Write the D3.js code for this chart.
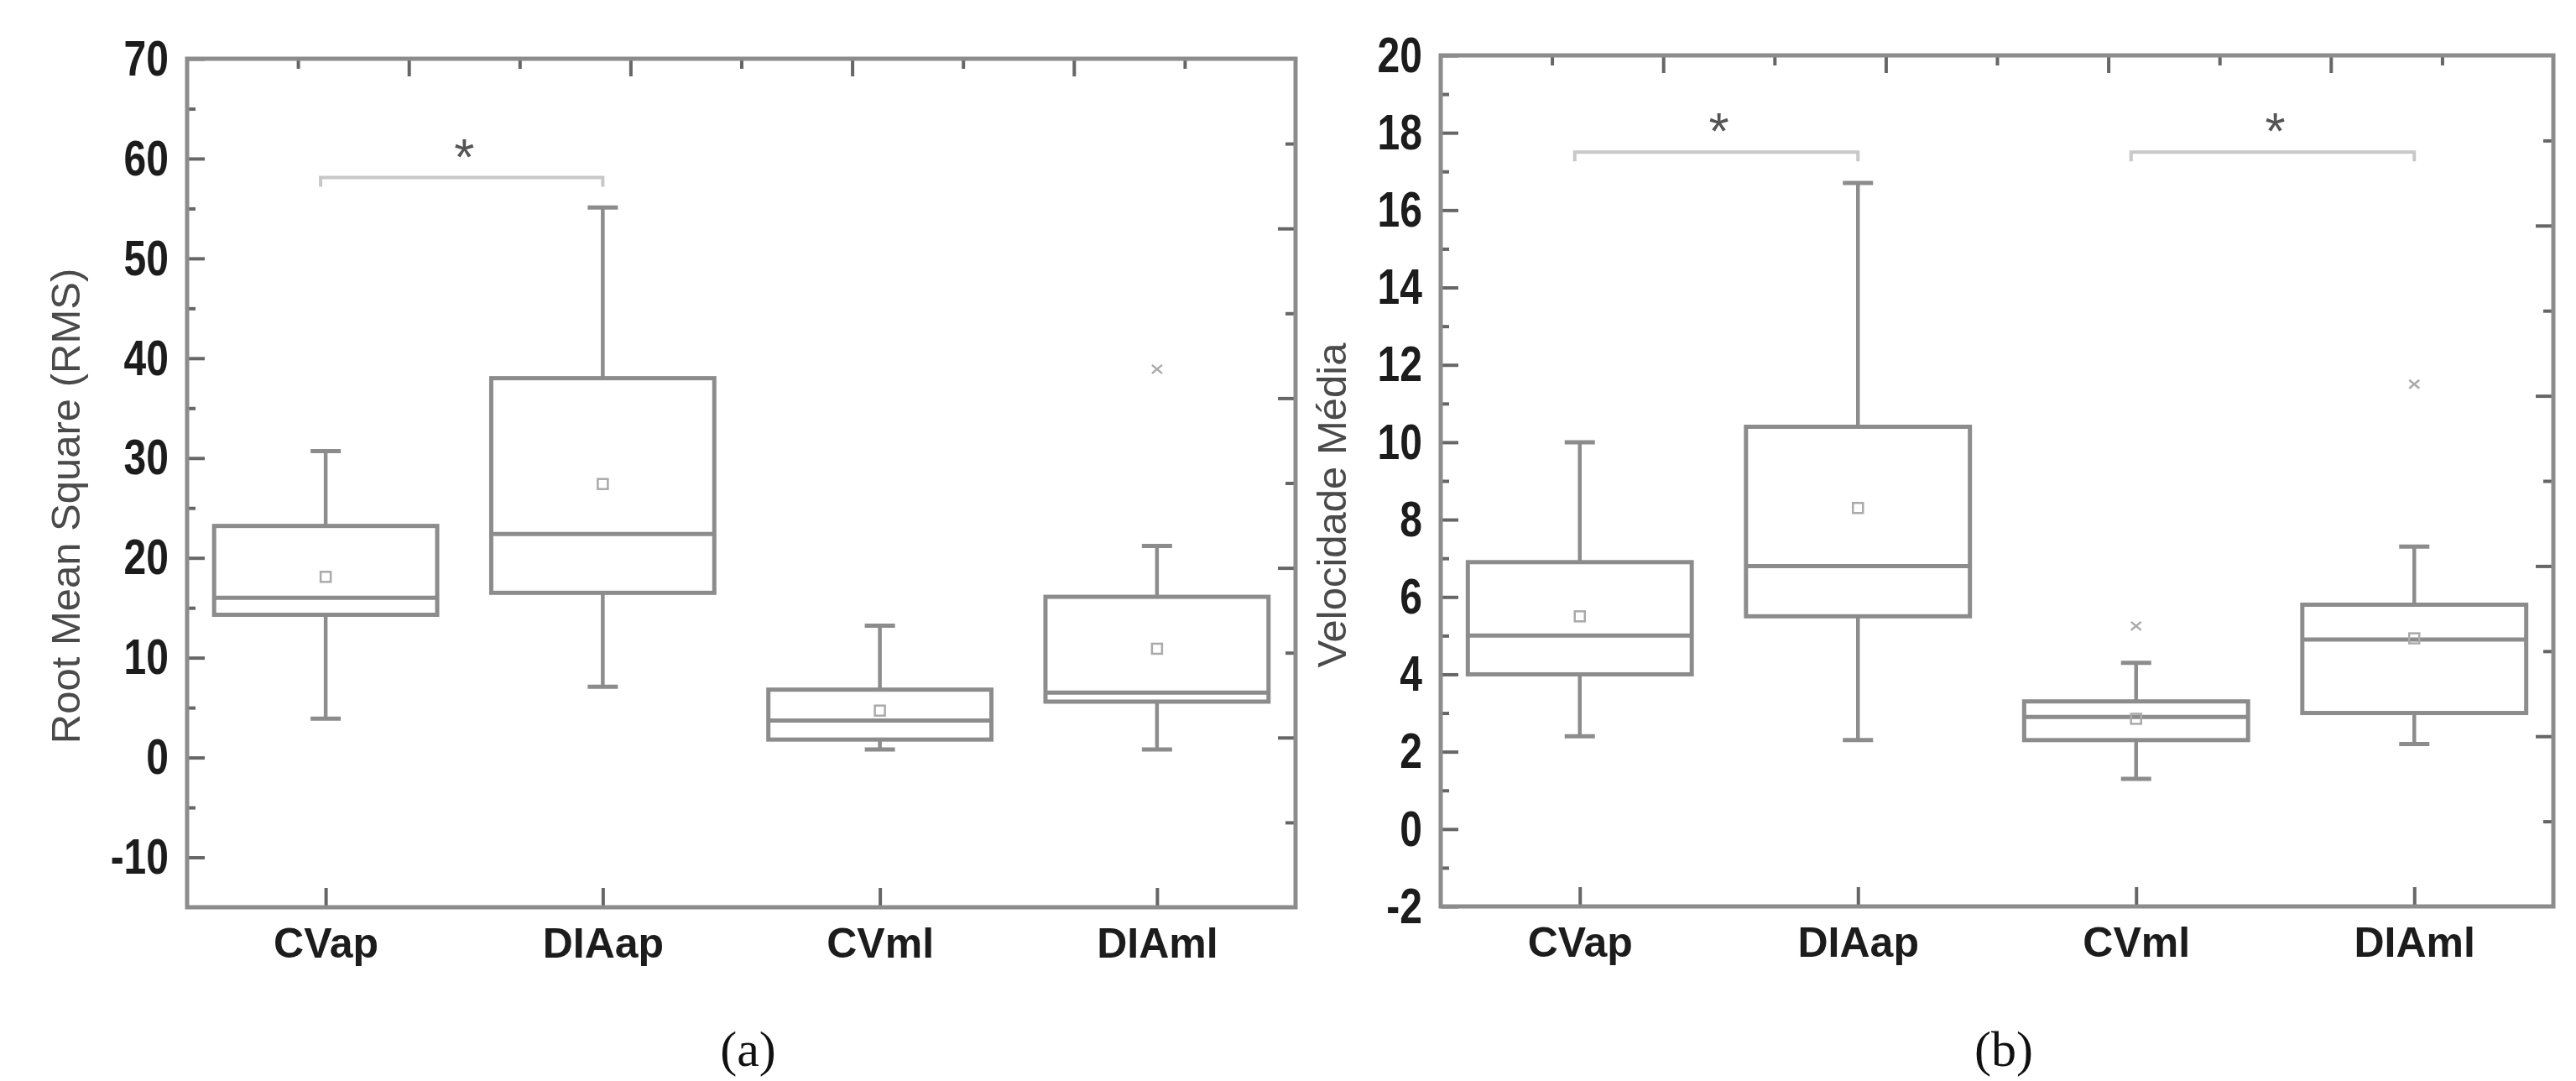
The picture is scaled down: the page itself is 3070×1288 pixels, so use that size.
<!DOCTYPE html>
<html>
<head>
<meta charset="utf-8">
<script src="https://cdn.jsdelivr.net/npm/d3@7"></script>
<style>
  html, body { margin: 0; padding: 0; background: #fff; }
  svg { display: block; }
</style>
</head>
<body>
<svg id="chart" width="3070" height="1288"></svg>
<script>
// categories shared by both panels
const categories = ['CVap', 'DIAap', 'CVml', 'DIAml'];

// (a) Root Mean Square
const rmsLow    = [3.9, 7.1, 0.8, 0.8];
const rmsQ1     = [14.3, 16.5, 1.8, 5.6];
const rmsMedian = [16.0, 22.4, 3.7, 6.5];
const rmsQ3     = [23.2, 38.0, 6.8, 16.1];
const rmsHigh   = [30.7, 55.1, 13.2, 21.2];
const rmsMean   = [18.1, 27.4, 4.7, 10.9];
const rmsOutliers = [[], [], [], [38.9]];
const rmsTicks  = [-10, 0, 10, 20, 30, 40, 50, 60, 70];
const rmsMinor  = [-5, 5, 15, 25, 35, 45, 55, 65];
const rmsSig    = [['CVap', 'DIAap', 58.1]];

// (b) Velocidade Média
const velLow    = [2.4, 2.3, 1.3, 2.2];
const velQ1     = [4.0, 5.5, 2.3, 3.0];
const velMedian = [5.0, 6.8, 2.9, 4.9];
const velQ3     = [6.9, 10.4, 3.3, 5.8];
const velHigh   = [10.0, 16.7, 4.3, 7.3];
const velMean   = [5.5, 8.3, 2.85, 4.93];
const velOutliers = [[], [], [5.25], [11.5]];
const velTicks  = [-2, 0, 2, 4, 6, 8, 10, 12, 14, 16, 18, 20];
const velMinor  = [-1, 1, 3, 5, 7, 9, 11, 13, 15, 17, 19];
const velSig    = [['CVap', 'DIAap', 17.5], ['CVml', 'DIAml', 17.5]];

const svg = d3.select('#chart');

const FRAME = '#8c8c8c';
const TICK = '#666';
const NARROW = 0.8; // tick labels in the original are a condensed face

function drawPanel(opt) {
  const { left, right, top, bottom } = opt;
  const g = svg.append('g');

  const x = d3.scaleBand().domain(categories).range([left, right]);
  const y = d3.scaleLinear().domain(opt.domain).range([bottom, top]);
  const cx = c => x(c) + x.bandwidth() / 2;
  const bw = x.bandwidth() * 0.805;

  // left axis, majors with labels
  const yAxis = g.append('g')
    .attr('transform', `translate(${left},0)`)
    .call(d3.axisLeft(y).tickValues(opt.ticks).tickSize(-21).tickPadding(22)
      .tickFormat(d => String(d)));
  yAxis.select('.domain').remove();
  yAxis.selectAll('line').attr('stroke', TICK).attr('stroke-width', 4);
  yAxis.selectAll('text')
    .attr('x', -22 / NARROW)
    .attr('transform', `scale(${NARROW},1)`)
    .attr('font-family', "'Liberation Sans', Arial, sans-serif")
    .attr('font-weight', 'bold')
    .attr('font-size', 60)
    .attr('fill', '#1c1c1c');

  const yMinor = g.append('g')
    .attr('transform', `translate(${left},0)`)
    .call(d3.axisLeft(y).tickValues(opt.minor).tickSize(-10).tickFormat(''));
  yMinor.select('.domain').remove();
  yMinor.selectAll('line').attr('stroke', TICK).attr('stroke-width', 4);

  // top and right axes: ten equal divisions
  const topS = d3.scaleLinear().domain([0, 10]).range([left, right]);
  const rightS = d3.scaleLinear().domain([0, 10]).range([top, bottom]);
  [[2, 4, 6, 8], [1, 3, 5, 7, 9]].forEach((vals, i) => {
    const len = i === 0 ? -21 : -12;
    const t = g.append('g')
      .attr('transform', `translate(0,${top})`)
      .call(d3.axisTop(topS).tickValues(vals).tickSize(len).tickFormat(''));
    t.select('.domain').remove();
    t.selectAll('line').attr('stroke', TICK).attr('stroke-width', 4);
    const r = g.append('g')
      .attr('transform', `translate(${right},0)`)
      .call(d3.axisRight(rightS).tickValues(vals).tickSize(len).tickFormat(''));
    r.select('.domain').remove();
    r.selectAll('line').attr('stroke', TICK).attr('stroke-width', 4);
  });

  // bottom axis with category labels
  const xAxis = g.append('g')
    .attr('transform', `translate(0,${bottom})`)
    .call(d3.axisBottom(d3.scalePoint().domain(categories).range([cx(categories[0]), cx(categories[3])]))
      .tickSize(-23).tickPadding(24));
  xAxis.select('.domain').remove();
  xAxis.selectAll('line').attr('stroke', TICK).attr('stroke-width', 4);
  xAxis.selectAll('text')
    .attr('font-family', "'Liberation Sans', Arial, sans-serif")
    .attr('font-weight', 'bold')
    .attr('font-size', 50)
    .attr('fill', '#1c1c1c');

  // frame
  g.append('rect')
    .attr('x', left).attr('y', top)
    .attr('width', right - left).attr('height', bottom - top)
    .attr('fill', 'none')
    .attr('stroke', FRAME)
    .attr('stroke-width', 5);

  // y title
  g.append('text')
    .attr('transform', `translate(${opt.titleX},${opt.titleY}) rotate(-90)`)
    .attr('text-anchor', 'middle')
    .attr('font-family', "'Liberation Sans', Arial, sans-serif")
    .attr('font-size', 49)
    .attr('fill', '#4a4a4a')
    .text(opt.title);

  // boxes
  const boxes = g.selectAll('.box').data(categories).enter()
    .append('g').attr('class', 'box');

  boxes.append('line')
    .attr('x1', cx).attr('x2', cx)
    .attr('y1', (c, i) => y(opt.q3[i])).attr('y2', (c, i) => y(opt.high[i]))
    .attr('stroke', FRAME).attr('stroke-width', 4.5);
  boxes.append('line')
    .attr('x1', cx).attr('x2', cx)
    .attr('y1', (c, i) => y(opt.q1[i])).attr('y2', (c, i) => y(opt.low[i]))
    .attr('stroke', FRAME).attr('stroke-width', 4.5);
  ['high', 'low'].forEach(k => {
    boxes.append('line')
      .attr('x1', c => cx(c) - 18).attr('x2', c => cx(c) + 18)
      .attr('y1', (c, i) => y(opt[k][i])).attr('y2', (c, i) => y(opt[k][i]))
      .attr('stroke', FRAME).attr('stroke-width', 5);
  });

  boxes.append('rect')
    .attr('x', c => cx(c) - bw / 2)
    .attr('width', bw)
    .attr('y', (c, i) => y(opt.q3[i]))
    .attr('height', (c, i) => y(opt.q1[i]) - y(opt.q3[i]))
    .attr('fill', '#fff')
    .attr('stroke', FRAME)
    .attr('stroke-width', 5);

  boxes.append('line')
    .attr('x1', c => cx(c) - bw / 2).attr('x2', c => cx(c) + bw / 2)
    .attr('y1', (c, i) => y(opt.median[i])).attr('y2', (c, i) => y(opt.median[i]))
    .attr('stroke', FRAME).attr('stroke-width', 5);

  // mean markers
  boxes.append('rect')
    .attr('x', c => cx(c) - 6)
    .attr('y', (c, i) => y(opt.mean[i]) - 6)
    .attr('width', 12).attr('height', 12)
    .attr('fill', 'none')
    .attr('stroke', '#aaa')
    .attr('stroke-width', 2.5);

  // outliers
  categories.forEach((c, i) => {
    opt.outliers[i].forEach(v => {
      const px = cx(c), py = y(v);
      g.append('path')
        .attr('d', `M${px - 6},${py - 5}L${px + 6},${py + 5}M${px - 6},${py + 5}L${px + 6},${py - 5}`)
        .attr('stroke', '#aaa')
        .attr('stroke-width', 2.5)
        .attr('fill', 'none');
    });
  });

  // significance brackets
  opt.sig.forEach(([a, b, lvl]) => {
    const yl = y(lvl);
    g.append('path')
      .attr('d', `M${cx(a) - 6},${yl + 11}V${yl}H${cx(b)}V${yl + 11}`)
      .attr('fill', 'none')
      .attr('stroke', '#c8c8c8')
      .attr('stroke-width', 4);
    g.append('text')
      .attr('x', (cx(a) + cx(b)) / 2)
      .attr('y', yl - 4)
      .attr('text-anchor', 'middle')
      .attr('font-family', "'Liberation Sans', Arial, sans-serif")
      .attr('font-size', 62)
      .attr('fill', '#555')
      .text('*');
  });

  // panel caption
  svg.append('text')
    .attr('x', (left + right) / 2 + 8)
    .attr('y', 1270)
    .attr('text-anchor', 'middle')
    .attr('font-family', "'Liberation Serif', 'Times New Roman', serif")
    .attr('font-size', 60)
    .attr('fill', '#111')
    .text(opt.caption);
}

drawPanel({
  left: 223, right: 1544, top: 70, bottom: 1081,
  domain: [-15, 70],
  ticks: rmsTicks, minor: rmsMinor,
  low: rmsLow, q1: rmsQ1, median: rmsMedian, q3: rmsQ3, high: rmsHigh,
  mean: rmsMean, outliers: rmsOutliers, sig: rmsSig,
  title: 'Root Mean Square (RMS)', titleX: 95, titleY: 603,
  caption: '(a)'
});

drawPanel({
  left: 1717, right: 3043, top: 66, bottom: 1080,
  domain: [-2, 20],
  ticks: velTicks, minor: velMinor,
  low: velLow, q1: velQ1, median: velMedian, q3: velQ3, high: velHigh,
  mean: velMean, outliers: velOutliers, sig: velSig,
  title: 'Velocidade Média', titleX: 1604, titleY: 602,
  caption: '(b)'
});
</script>
</body>
</html>
